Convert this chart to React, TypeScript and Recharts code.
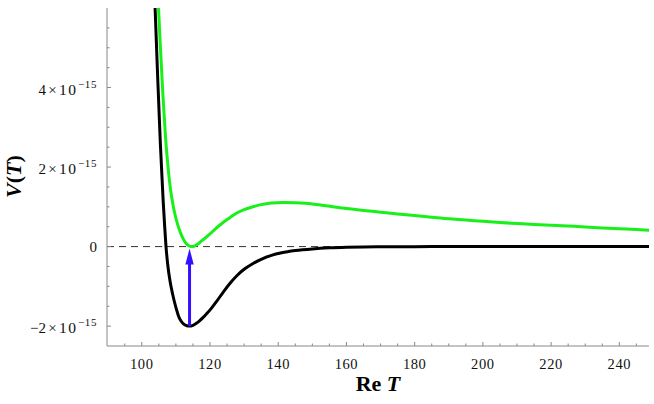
import React from 'react'
import {
  ComposedChart,
  Line,
  XAxis,
  YAxis,
  ReferenceLine,
} from 'recharts'

// values in units of 1e-15
const blackCurve = [
  { x: 103.4, v: 7.3 },
  { x: 103.9, v: 6.0 },
  { x: 104.6, v: 4.4 },
  { x: 105.4, v: 2.67 },
  { x: 105.95, v: 1.7 },
  { x: 106.3, v: 1.1 },
  { x: 106.7, v: 0.52 },
  { x: 107.1, v: 0 },
  { x: 107.6, v: -0.45 },
  { x: 108.3, v: -0.88 },
  { x: 109, v: -1.18 },
  { x: 109.6, v: -1.4 },
  { x: 110.2, v: -1.59 },
  { x: 110.7, v: -1.73 },
  { x: 111.5, v: -1.87 },
  { x: 112.3, v: -1.95 },
  { x: 113.2, v: -1.99 },
  { x: 114, v: -2.0 },
  { x: 115, v: -1.98 },
  { x: 116, v: -1.93 },
  { x: 117, v: -1.86 },
  { x: 118, v: -1.78 },
  { x: 119, v: -1.69 },
  { x: 120.5, v: -1.54 },
  { x: 122, v: -1.37 },
  { x: 124, v: -1.13 },
  { x: 126, v: -0.91 },
  { x: 128, v: -0.72 },
  { x: 130, v: -0.57 },
  { x: 132.5, v: -0.43 },
  { x: 135, v: -0.32 },
  { x: 138, v: -0.22 },
  { x: 141, v: -0.155 },
  { x: 145, v: -0.1 },
  { x: 150, v: -0.058 },
  { x: 155, v: -0.032 },
  { x: 160, v: -0.017 },
  { x: 165, v: -0.009 },
  { x: 170, v: -0.005 },
  { x: 180, v: -0.001 },
  { x: 190, v: 0 },
  { x: 249, v: 0 },
]

const greenCurve = [
  { x: 104.4, v: 7.0 },
  { x: 104.9, v: 6.0 },
  { x: 105.5, v: 4.95 },
  { x: 106.2, v: 3.8 },
  { x: 107.0, v: 2.7 },
  { x: 107.7, v: 2.0 },
  { x: 108.4, v: 1.45 },
  { x: 109.1, v: 1.08 },
  { x: 109.75, v: 0.8 },
  { x: 110.5, v: 0.56 },
  { x: 111.2, v: 0.38 },
  { x: 112, v: 0.22 },
  { x: 112.8, v: 0.1 },
  { x: 113.6, v: 0.03 },
  { x: 114.4, v: 0 },
  { x: 115.3, v: 0.01 },
  { x: 116.2, v: 0.05 },
  { x: 117.2, v: 0.12 },
  { x: 118.5, v: 0.21 },
  { x: 120, v: 0.32 },
  { x: 121.5, v: 0.44 },
  { x: 123, v: 0.55 },
  { x: 124.5, v: 0.65 },
  { x: 126, v: 0.74 },
  { x: 128, v: 0.85 },
  { x: 130, v: 0.93 },
  { x: 132.5, v: 1.0 },
  { x: 135, v: 1.055 },
  { x: 138, v: 1.095 },
  { x: 141.5, v: 1.11 },
  { x: 145, v: 1.105 },
  { x: 148, v: 1.09 },
  { x: 152, v: 1.05 },
  { x: 156, v: 1.0 },
  { x: 160, v: 0.96 },
  { x: 165, v: 0.91 },
  { x: 170, v: 0.865 },
  { x: 175, v: 0.82 },
  { x: 180, v: 0.78 },
  { x: 185, v: 0.74 },
  { x: 190, v: 0.7 },
  { x: 195, v: 0.67 },
  { x: 200, v: 0.635 },
  { x: 205, v: 0.605 },
  { x: 210, v: 0.58 },
  { x: 215, v: 0.555 },
  { x: 220, v: 0.535 },
  { x: 225, v: 0.515 },
  { x: 230, v: 0.495 },
  { x: 235, v: 0.47 },
  { x: 240, v: 0.45 },
  { x: 245, v: 0.43 },
  { x: 249, v: 0.41 },
]

const arrowX = 114
const arrowFrom = -2
const arrowTo = 0

const xMajor = [100, 120, 140, 160, 180, 200, 220, 240]
const xTicks = [95, 100, 105, 110, 115, 120, 125, 130, 135, 140, 145, 150, 155, 160, 165, 170, 175, 180, 185, 190, 195, 200, 205, 210, 215, 220, 225, 230, 235, 240, 245]
const yMajor = [-2, 0, 2, 4]
const yTicks = [-2, -1.5, -1, -0.5, 0, 0.5, 1, 1.5, 2, 2.5, 3, 3.5, 4, 4.5, 5, 5.5]
const yExponent = '\u221215'

const FRAME = '#888'
const SERIF = 'Liberation Serif, Times New Roman, serif'
const txt = (size: number, extra: any = {}) => ({ fontFamily: SERIF, fontSize: size, ...extra })

const BottomTick = (props: any) => {
  const { x, y, payload } = props
  const major = xMajor.includes(payload.value)
  return (
    <g>
      <line x1={x} y1={y} x2={x} y2={y - (major ? 4 : 2.5)} stroke={FRAME} />
      {major && (
        <text x={x} y={y + 23} textAnchor="middle" fill="#111" style={txt(14.5, { letterSpacing: 0.6 })}>
          {payload.value}
        </text>
      )}
    </g>
  )
}

const TopTick = (props: any) => {
  const { x, y, payload } = props
  const major = xMajor.includes(payload.value)
  return <line x1={x} y1={y} x2={x} y2={y + (major ? 4 : 2.5)} stroke={FRAME} />
}

const LeftTick = (props: any) => {
  const { x, y, payload } = props
  const v = payload.value
  const major = yMajor.includes(v)
  let label = null
  if (major) {
    if (v === 0) {
      label = (
        <text x={x - 10} y={y + 5} textAnchor="end" fill="#111" style={txt(15)}>0</text>
      )
    } else {
      const mant = v < 0 ? '\u2212' + Math.abs(v) : String(v)
      label = (
        <g fill="#111">
          <text x={x - 61} y={y + 7} textAnchor="end" style={txt(15)}>{mant}</text>
          <text x={x - 54.5} y={y + 7} textAnchor="middle" style={txt(15)}>×</text>
          <text x={x - 48} y={y + 7} textAnchor="start" style={txt(15.5, { letterSpacing: 1.5 })}>10</text>
          <text x={x - 29} y={y} textAnchor="start" style={txt(11, { letterSpacing: 0.6 })}>{yExponent}</text>
        </g>
      )
    }
  }
  return (
    <g>
      <line x1={x} y1={y} x2={x + (major ? 4 : 2.5)} y2={y} stroke={FRAME} />
      {label}
    </g>
  )
}

const RightTick = (props: any) => {
  const { x, y, payload } = props
  const major = yMajor.includes(payload.value)
  return <line x1={x} y1={y} x2={x - (major ? 4 : 2.5)} y2={y} stroke={FRAME} />
}

const Arrow = (props: any) => {
  const { x1, y1, x2, y2 } = props
  const top = Math.min(y1, y2) + 2
  const bottom = Math.max(y1, y2)
  const head = 16
  return (
    <g>
      <line x1={x1} y1={bottom} x2={x2} y2={top + head - 2} stroke="#3311ff" strokeWidth={3} />
      <polygon
        points={`${x1},${top} ${x1 - 4.2},${top + head} ${x1 + 4.2},${top + head}`}
        fill="#3311ff"
      />
    </g>
  )
}

export default function App() {
  return (
    <div style={{ position: 'absolute', left: 0, top: 0, width: 654, height: 404, background: '#fff' }}>
      <ComposedChart width={654} height={404} margin={{ top: 8, right: 5, left: 0, bottom: 0 }}>
        <XAxis
          type="number"
          dataKey="x"
          domain={[89.8, 248.7]}
          allowDataOverflow
          ticks={xTicks}
          interval={0}
          height={58}
          tickSize={0}
          tickMargin={0}
          tickLine={false}
          stroke={FRAME}
          tick={<BottomTick />}
        />
        <XAxis
          xAxisId="top"
          orientation="top"
          type="number"
          domain={[89.8, 248.7]}
          allowDataOverflow
          ticks={xTicks}
          interval={0}
          height={0}
          tickSize={0}
          tickMargin={0}
          tickLine={false}
          stroke={FRAME}
          tick={<TopTick />}
        />
        <YAxis
          type="number"
          domain={[-2.5, 6]}
          allowDataOverflow
          ticks={yTicks}
          interval={0}
          width={107}
          tickSize={0}
          tickMargin={0}
          tickLine={false}
          stroke={FRAME}
          tick={<LeftTick />}
        />
        <YAxis
          yAxisId="right"
          orientation="right"
          type="number"
          domain={[-2.5, 6]}
          allowDataOverflow
          ticks={yTicks}
          interval={0}
          width={0}
          tickSize={0}
          tickMargin={0}
          tickLine={false}
          stroke={FRAME}
          tick={<RightTick />}
        />
        <ReferenceLine y={0} stroke="#333" strokeWidth={1} strokeDasharray="7 5" />
        <Line
          data={blackCurve}
          dataKey="v"
          type="monotone"
          stroke="#000"
          strokeWidth={3}
          dot={false}
          isAnimationActive={false}
        />
        <Line
          data={greenCurve}
          dataKey="v"
          type="monotone"
          stroke="#19f019"
          strokeWidth={3}
          dot={false}
          isAnimationActive={false}
        />
        <ReferenceLine
          segment={[{ x: arrowX, y: arrowFrom }, { x: arrowX, y: arrowTo }]}
          shape={(p: any) => <Arrow {...p} />}
        />
        <text x={378} y={391} textAnchor="middle" fill="#000" style={txt(22, { fontWeight: 'bold' })}>
          Re <tspan style={{ fontStyle: 'italic' }}>T</tspan>
        </text>
        <text
          x={21}
          y={176.5}
          textAnchor="middle"
          fill="#000"
          style={txt(22, { fontWeight: 'bold' })}
          transform="rotate(-90, 21, 176.5)"
        >
          <tspan style={{ fontStyle: 'italic' }}>V</tspan>(<tspan style={{ fontStyle: 'italic' }}>T</tspan>)
        </text>
      </ComposedChart>
    </div>
  )
}
